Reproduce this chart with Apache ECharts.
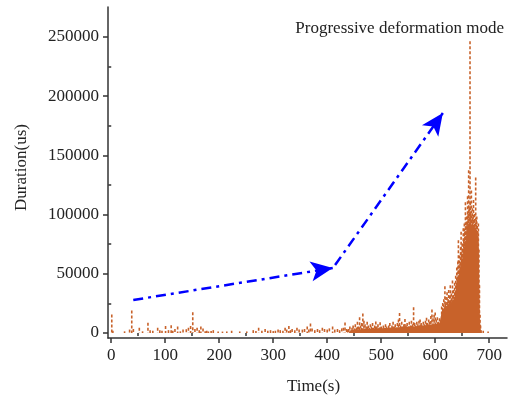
<!DOCTYPE html>
<html>
<head>
<meta charset="utf-8">
<script src="https://cdn.jsdelivr.net/npm/echarts@6/dist/echarts.min.js"></script>
<style>html,body{margin:0;padding:0;background:#fff}#c{width:509px;height:400px}</style>
</head>
<body>
<div id="c"></div>
<script>
// ---- data ----
const xTickLabels = [0, 100, 200, 300, 400, 500, 600, 700];
const xMinorTicks = [50, 150, 250, 350, 450, 550, 650];
const yTickLabels = [0, 50000, 100000, 150000, 200000, 250000];
const yMinorTicks = [25000, 75000, 125000, 175000, 225000];

// sparse acoustic-emission hits, 0-440 s
const sparseTimes = [1,3,24.7,34,38,41,52,58,68,72,77,86,90,94,100.6,106,111,114,118,123,128,133,139,143,147,151,155,159,163,166,170,174,177,180,185,189,198,206,214,223,238,251,263,268,273,279,285,290,295,300,304,309,313,318,322,325,329,332,335,340,344,348,354,358,363,366,369,372,377,382,386,391,395,400,404,410,414,419,423,427,430,433,436,438];
const sparseDur = [15200,1500,1000,2500,18600,3000,4000,1000,8200,2000,1500,4000,2000,1500,5600,2000,6200,1500,3000,5000,1000,2500,2800,4000,5500,17200,3000,4000,2000,5000,3500,1000,1500,900,1200,2000,900,800,900,1500,900,900,2000,1200,4000,1500,3000,1500,2000,1200,1500,2500,2000,1500,4000,2500,5500,2000,3000,2000,4000,2500,2500,3000,5000,2500,7600,3500,2000,3000,2000,4000,3000,2500,3500,5000,2500,3000,2000,3500,4000,8400,3000,2500];

// growing activity, 440-610 s (every 2 s)
const midTimes = [440,442,444,446,448,450,452,454,456,458,460,462,464,466,468,470,472,474,476,478,480,482,484,486,488,490,492,494,496,498,500,502,504,506,508,510,512,514,516,518,520,522,524,526,528,530,532,534,536,538,540,542,544,546,548,550,552,554,556,558,560,562,564,566,568,570,572,574,576,578,580,582,584,586,588,590,592,594,596,598,600,602,604,606,608,610];
const midDur = [3000,5000,2000,4000,6000,3500,7000,4000,9000,5000,13000,6000,8000,16000,10000,7000,5000,9000,6000,4000,7000,5000,8000,4000,6000,9300,5000,7000,4000,8700,5000,3000,6000,4000,7000,5000,3000,6000,8000,4000,6000,9000,5000,7000,4000,8000,11000,16500,6000,9000,5000,7000,11500,6000,8000,5000,9000,6000,10000,7000,21400,8000,6000,9000,7000,10000,11000,8000,6000,9000,7000,10000,12400,8000,11000,9000,14000,19400,12000,15000,17000,11000,13000,9000,12000,10000];

// intense activity before failure, 612-698 s
const denseTimes = [612,613,614,615,616,617,618,619,620,621,622,623,624,625,626,627,628,629,630,631,632,633,634,635,636,637,638,639,640,641,642,643,644,645,646,647,648,649,650,651,652,653,654,655,656,657,658,659,660,661,662,663,664.5,665,666,667,668,669,670,671,672,673,674,675,676,677,678,679,680,681,682,683,684,685,689,698];
const denseDur = [22000,15000,25000,18000,28000,20000,39000,24000,30000,22000,34000,26000,28000,36000,25000,31000,40000,27000,33000,29000,44000,31000,36000,30000,42000,34000,48000,40000,55000,45000,60000,78000,52000,65000,58000,72000,85000,66000,75000,70000,88000,78000,92000,85000,110000,90000,98000,92000,115000,100000,137000,105000,246000,110000,100000,120000,95000,105000,98000,112000,95000,100000,92000,131000,95000,98000,90000,85000,92000,70000,40000,15000,6000,2000,1500,800];

// solid core of the dense cloud
const coreTimes = [440,445,470,500,540,570,590,608,611,612,618,625,635,640,645,650,655,660,665,672,678,680,681,682,683,685];
const coreDur = [0,2500,3500,4000,5000,6000,7000,8000,9000,18000,22000,24000,28000,40000,52000,62000,75000,88000,92000,90000,85000,80000,60000,30000,10000,0];

// trend arrows [time, duration]
const arrow1 = [[40.8, 27900], [410.3, 54900]];
const arrow2 = [[414.6, 57400], [614.2, 185800]];

const titleText = 'Progressive deformation mode';

// ---- build ----
const ORANGE = '#C8622A';
const FONT = 'Liberation Serif';
const hits = [];
[[sparseTimes, sparseDur], [midTimes, midDur], [denseTimes, denseDur]].forEach(([ts, ds]) => {
  ts.forEach((t, i) => hits.push([t, ds[i]]));
});
const core = coreTimes.map((t, i) => [t, coreDur[i]]);
const plain = v => String(v);

const axisLineStyle = { color: '#333', width: 1.5 };
const chart = echarts.init(document.getElementById('c'), null, { renderer: 'canvas' });
chart.setOption({
  animation: false,
  backgroundColor: '#fff',
  title: {
    text: titleText, right: 0, top: 15,
    textStyle: { fontFamily: FONT, fontSize: 17, fontWeight: 'normal', color: '#222' }
  },
  grid: { left: 108, top: 7, right: 2, bottom: 62 },
  xAxis: [{
    type: 'value', min: -6, max: 733, position: 'bottom',
    name: 'Time(s)', nameLocation: 'middle', nameGap: 40,
    nameTextStyle: { fontFamily: FONT, fontSize: 17, color: '#222', padding: [0, 0, 0, 12] },
    axisLine: { show: true, onZero: false, lineStyle: axisLineStyle },
    axisTick: { show: true, length: 5, customValues: xTickLabels, lineStyle: axisLineStyle },
    axisLabel: { customValues: xTickLabels, formatter: plain, fontFamily: FONT, fontSize: 17, color: '#222', margin: 9 },
    splitLine: { show: false }
  }, {
    type: 'value', min: -6, max: 733, position: 'bottom',
    axisLine: { show: false },
    axisTick: { show: true, length: 3, customValues: xMinorTicks, lineStyle: axisLineStyle },
    axisLabel: { show: false },
    splitLine: { show: false }
  }],
  yAxis: [{
    type: 'value', min: -4200, max: 275300, position: 'left',
    name: 'Duration(us)', nameLocation: 'middle', nameGap: 78,
    nameTextStyle: { fontFamily: FONT, fontSize: 17, color: '#222', padding: [0, 0, 0, 10] },
    axisLine: { show: true, onZero: false, lineStyle: axisLineStyle },
    axisTick: { show: true, length: 5, customValues: yTickLabels, lineStyle: axisLineStyle },
    axisLabel: { customValues: yTickLabels, formatter: plain, fontFamily: FONT, fontSize: 17, color: '#222', margin: 9 },
    splitLine: { show: false }
  }, {
    type: 'value', min: -4200, max: 275300, position: 'left',
    axisLine: { show: false },
    axisTick: { show: true, length: 3, customValues: yMinorTicks, lineStyle: axisLineStyle },
    axisLabel: { show: false },
    splitLine: { show: false }
  }],
  series: [{
    type: 'line', xAxisIndex: 0, yAxisIndex: 0, data: core,
    symbol: 'none', lineStyle: { width: 0 },
    areaStyle: { color: ORANGE, opacity: 1 }, silent: true
  }, {
    type: 'custom', xAxisIndex: 0, yAxisIndex: 0, data: hits,
    renderItem: function (params, api) {
      const t = api.value(0), v = api.value(1);
      const top = api.coord([t, v]);
      const bot = api.coord([t, 0]);
      return {
        type: 'line',
        shape: { x1: top[0], y1: top[1] - 0.5, x2: bot[0], y2: bot[1] },
        style: { stroke: ORANGE, lineWidth: 1.6, lineDash: [3, 2] }
      };
    },
    markLine: {
      silent: true,
      symbol: ['none', 'arrow'],
      symbolSize: [15, 22],
      label: { show: false },
      lineStyle: { color: '#0000FF', width: 2.5, type: [10, 5, 3, 5], opacity: 1 },
      data: [
        [{ coord: arrow1[0] }, { coord: arrow1[1] }],
        [{ coord: arrow2[0] }, { coord: arrow2[1] }]
      ]
    }
  }]
});
</script>
</body>
</html>
